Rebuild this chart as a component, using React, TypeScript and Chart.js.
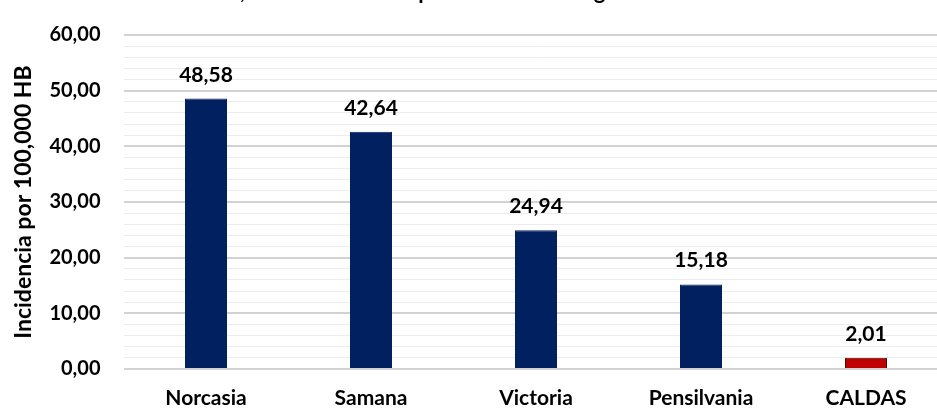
import React, { useEffect, useRef } from "react";
import { Chart, registerables } from "chart.js";

Chart.register(...registerables);

const categories = ["Norcasia", "Samana", "Victoria", "Pensilvania", "CALDAS"];
const values = [48.58, 42.64, 24.94, 15.18, 2.01];
const barColors = ["#002060", "#002060", "#002060", "#002060", "#C00000"];
const borderColors = ["#002060", "#002060", "#002060", "#002060", "#3a1010"];
const yTitle = "Incidencia por 100,000 HB";
const chartTitle = "Tasa de incidencia, Caldas año 2023 por 100 mil HB según residencia";
const yMax = 60;
const yStep = 2;
const yMajorStep = 10;

const FONT = "Lato";

const fmt = (v: number) => v.toFixed(2).replace(".", ",");

const labelPlugin = {
  id: "valueLabels",
  afterDatasetsDraw(chart: any) {
    const ctx = chart.ctx;
    const meta = chart.getDatasetMeta(0);
    ctx.save();
    ctx.font = `bold 21px ${FONT}`;
    ctx.fillStyle = "#000";
    ctx.textAlign = "center";
    ctx.textBaseline = "alphabetic";
    meta.data.forEach((bar: any, i: number) => {
      ctx.fillText(fmt(values[i]), bar.x, bar.y - 17);
    });
    ctx.restore();
  },
};

const titlePlugin = {
  id: "cutTitle",
  afterDraw(chart: any) {
    const ctx = chart.ctx;
    ctx.save();
    ctx.font = `bold 22px ${FONT}`;
    ctx.fillStyle = "#000";
    ctx.textAlign = "left";
    ctx.textBaseline = "alphabetic";
    const prefix = chartTitle.split(",")[0];
    const w = ctx.measureText(prefix).width;
    ctx.fillText(chartTitle, 240 - w, -1);
    ctx.restore();
  },
};

export default function App() {
  const ref = useRef<HTMLCanvasElement | null>(null);
  useEffect(() => {
    if (!ref.current) return;
    const chart = new Chart(ref.current, {
      type: "bar",
      data: {
        labels: categories,
        datasets: [
          {
            data: values,
            backgroundColor: barColors,
            borderColor: borderColors,
            borderWidth: 1,
            categoryPercentage: 1,
            barPercentage: 0.2545,
          },
        ],
      },
      options: {
        responsive: false,
        animation: false,
        devicePixelRatio: 1,
        layout: { padding: { top: 24, right: 1.5, left: 0, bottom: 0 } },
        plugins: {
          legend: { display: false },
          tooltip: { enabled: false },
          title: { display: false },
        },
        scales: {
          x: {
            grid: { display: false, drawTicks: false },
            border: { display: false },
            ticks: {
              color: "#000",
              font: { family: FONT, size: 21, weight: "bold" },
              padding: 17,
            },
            afterFit: (s: any) => {
              s.height = 51;
            },
          },
          y: {
            min: 0,
            max: yMax,
            border: { display: false },
            grid: {
              drawTicks: false,
              color: (c: any) =>
                c.tick && Math.round(c.tick.value) % yMajorStep === 0 ? "#d2d2d2" : "#ececec",
              lineWidth: (c: any) =>
                c.tick && Math.round(c.tick.value) % yMajorStep === 0 ? 2 : 1,
            },
            ticks: {
              stepSize: yStep,
              color: "#000",
              font: { family: FONT, size: 20, weight: "bold" },
              padding: 23,
              autoSkip: false,
              callback: (v: any) => (Math.round(v) % yMajorStep === 0 ? fmt(Number(v)) : ""),
            },
            title: {
              display: true,
              text: yTitle,
              color: "#000",
              font: { family: FONT, size: 23, weight: "bold" },
              padding: { top: 10, bottom: 0 },
            },
            afterFit: (s: any) => {
              s.width = 123.5;
            },
          },
        },
      },
      plugins: [labelPlugin, titlePlugin],
    });
    return () => chart.destroy();
  }, []);
  return (
    <div
      style={{
        position: "fixed",
        left: 0,
        top: 0,
        width: 937,
        height: 408,
        overflow: "hidden",
        background: "#fff",
      }}
    >
      <canvas ref={ref} width={950} height={420} style={{ width: 950, height: 420, display: "block" }} />
    </div>
  );
}
